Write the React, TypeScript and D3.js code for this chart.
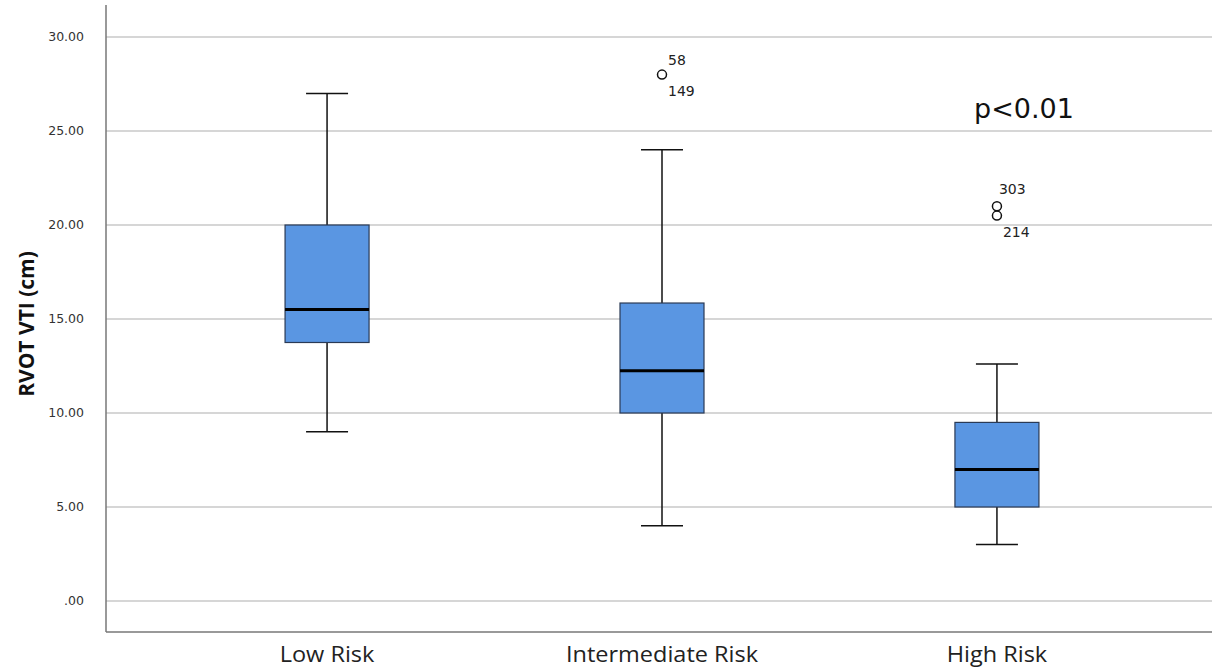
import React from "react";
import * as d3 from "d3";

const categories = ["Low Risk", "Intermediate Risk", "High Risk"];
const whiskerLow = [9, 4, 3];
const q1 = [13.75, 10, 5];
const medians = [15.5, 12.25, 7];
const q3 = [20, 15.85, 9.5];
const whiskerHigh = [27, 24, 12.6];
const outlierCategory = ["Intermediate Risk", "High Risk", "High Risk"];
const outlierValues = [28, 21, 20.5];
const outlierLabels = [["58", "149"], ["303"], ["214"]];
const yTicks = [0, 5, 10, 15, 20, 25, 30];
const annotation = "p<0.01";

const W = 1222;
const H = 672;
const left = 106;
const right = 1212;
const axisBottom = 632;

export default function App() {
  const y = d3.scaleLinear().domain([0, 30]).range([601, 37]);
  const x = d3.scalePoint<string>().domain(categories).range([106, 1218]).padding(0.66);
  const boxW = 84;
  const fmt = (v: number) => (v === 0 ? ".00" : d3.format(".2f")(v));
  return (
    <svg width={W} height={H} style={{ position: "absolute", left: 0, top: 0, background: "#fff" }}>
      {yTicks.map((t) => (
        <g key={t}>
          <line x1={left} x2={right} y1={y(t)} y2={y(t)} stroke="#c8c8c8" strokeWidth={1.5} />
          <text x={84} y={y(t)} dy="0.35em" textAnchor="end" fontFamily="DejaVu Sans" fontSize={12.5} fill="#333">
            {fmt(t)}
          </text>
        </g>
      ))}
      <line x1={left} x2={left} y1={5} y2={axisBottom} stroke="#777" strokeWidth={1.5} />
      <line x1={left} x2={right} y1={axisBottom} y2={axisBottom} stroke="#777" strokeWidth={1.5} />
      <text
        transform={`translate(27,${324}) rotate(-90)`}
        textAnchor="middle"
        fontFamily="Open Sans"
        fontWeight="bold"
        fontSize={21}
        fill="#111"
        dy="0.35em"
      >
        RVOT VTI (cm)
      </text>
      {categories.map((c, i) => {
        const cx = x(c)!;
        return (
          <g key={c}>
            <line x1={cx} x2={cx} y1={y(whiskerHigh[i])} y2={y(q3[i])} stroke="#111" strokeWidth={1.5} />
            <line x1={cx} x2={cx} y1={y(q1[i])} y2={y(whiskerLow[i])} stroke="#111" strokeWidth={1.5} />
            <line x1={cx - boxW / 4} x2={cx + boxW / 4} y1={y(whiskerHigh[i])} y2={y(whiskerHigh[i])} stroke="#111" strokeWidth={1.5} />
            <line x1={cx - boxW / 4} x2={cx + boxW / 4} y1={y(whiskerLow[i])} y2={y(whiskerLow[i])} stroke="#111" strokeWidth={1.5} />
            <rect
              x={cx - boxW / 2}
              y={y(q3[i])}
              width={boxW}
              height={y(q1[i]) - y(q3[i])}
              fill="#5a96e2"
              stroke="#2a3a55"
              strokeWidth={1.2}
            />
            <line x1={cx - boxW / 2} x2={cx + boxW / 2} y1={y(medians[i])} y2={y(medians[i])} stroke="#000" strokeWidth={3} />
            <text
              x={cx}
              y={655}
              dy="0.35em"
              textAnchor="middle"
              fontFamily="Open Sans"
              fontSize={21}
              fill="#222"
              transform={`translate(${cx},0) scale(1.12,1) translate(${-cx},0)`}
            >
              {c}
            </text>
          </g>
        );
      })}
      {outlierValues.map((v, i) => {
        const cx = x(outlierCategory[i])!;
        const cy = y(v);
        const labs = outlierLabels[i];
        return (
          <g key={i}>
            <circle cx={cx} cy={cy} r={4.5} fill="none" stroke="#111" strokeWidth={1.5} />
            {labs.length === 2 ? (
              <>
                <text x={cx + 6} y={cy - 15} dy="0.35em" fontFamily="DejaVu Sans" fontSize={14} fill="#222">{labs[0]}</text>
                <text x={cx + 6} y={cy + 16} dy="0.35em" fontFamily="DejaVu Sans" fontSize={14} fill="#222">{labs[1]}</text>
              </>
            ) : i === 1 ? (
              <text x={cx + 2} y={cy - 17} dy="0.35em" fontFamily="DejaVu Sans" fontSize={14} fill="#222">{labs[0]}</text>
            ) : (
              <text x={cx + 6} y={cy + 16} dy="0.35em" fontFamily="DejaVu Sans" fontSize={14} fill="#222">{labs[0]}</text>
            )}
          </g>
        );
      })}
      <text x={974} y={118} fontFamily="DejaVu Sans" fontSize={27} fill="#111">
        {annotation}
      </text>
    </svg>
  );
}
